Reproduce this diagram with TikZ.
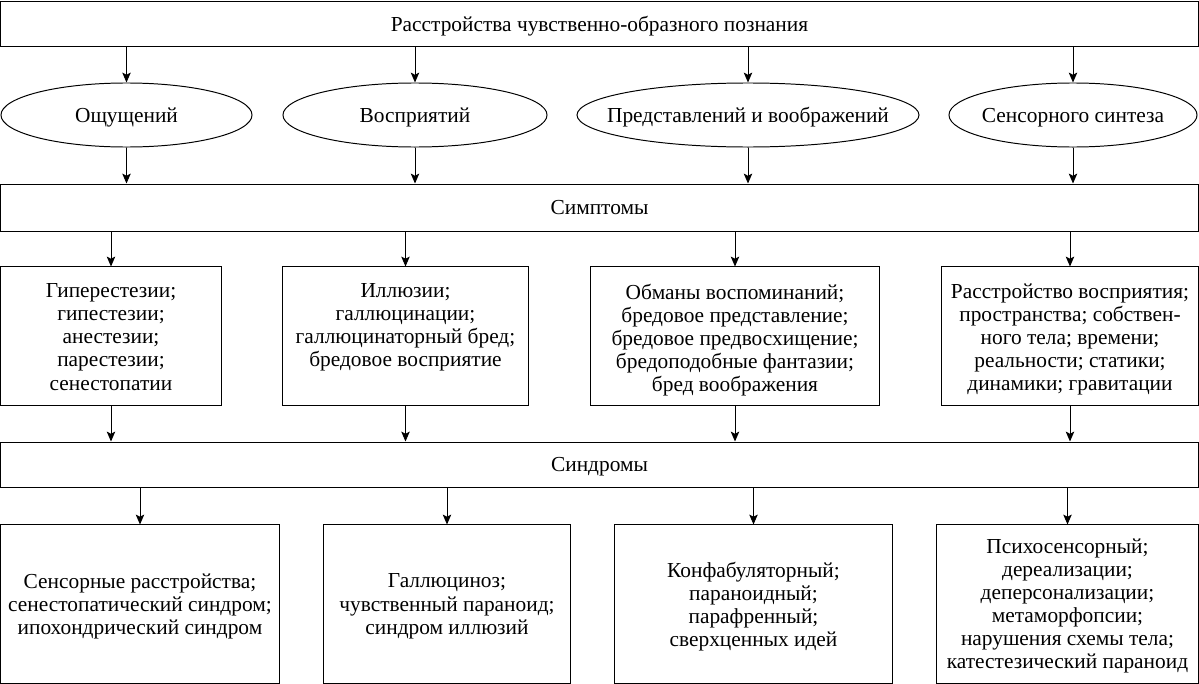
\documentclass[tikz,border=0pt]{standalone}
\usepackage{fontspec}
\setmainfont{Liberation Serif}
\usetikzlibrary{arrows.meta}
\usetikzlibrary{shapes.geometric}
\usetikzlibrary{positioning}
\tikzset{arr/.style = {-{Stealth[length=7pt, width=6pt, inset=1.5pt]}, line width=0.7pt}}
\tikzset{box/.style = {draw, rectangle, line width=0.7pt, inner sep=0, text depth=0pt}}
\tikzset{oval/.style = {draw, ellipse, line width=0.7pt, inner xsep=-0.5cm, inner ysep=0,
                        minimum height=1.6cm, text depth=0pt}}
\tikzset{txt/.style = {align=center, inner sep=0}}
\tikzset{every node/.style = {font=\fontsize{15.2}{16.4}\selectfont}}

\begin{document}
\begin{tikzpicture}[x=0.025cm, y=-0.025cm]
    \useasboundingbox (0, 0) rectangle (1199, 684);

    \node [box, minimum width=29.925cm, minimum height=1.125cm] (top) at (599.5, 23.5)
      {Расстройства чувственно-образного познания};

    \node [oval, minimum width=6.275cm] (e1) at (126.5, 115) {Ощущений};
    \node [oval, minimum width=6.6cm] (e2) at (415, 115) {Восприятий};
    \node [oval, minimum width=8.5cm] (e3) at (748, 115) {Представлений и воображений};
    \node [oval, minimum width=6.2cm] (e4) at (1073, 115) {Сенсорного синтеза};

    \node [box, minimum width=29.925cm, minimum height=1.175cm] (symp) at (599.5, 207.5) {Симптомы};

    \node [box, minimum width=5.5cm, minimum height=3.45cm] (s1) at (111, 336) {};
    \node [box, minimum width=6.125cm, minimum height=3.45cm] (s2) at (405.5, 336) {};
    \node [box, minimum width=7.2cm, minimum height=3.45cm] (s3) at (735, 336) {};
    \node [box, minimum width=6.4cm, minimum height=3.45cm] (s4) at (1070, 336) {};
    \node [txt, anchor=north] (s1t) at ([yshift=-0.425cm]s1.north)
      {Гиперестезии;\\ гипестезии;\\ анестезии;\\ парестезии;\\ сенестопатии};
    \node [txt, anchor=north] (s2t) at ([yshift=-0.425cm]s2.north)
      {Иллюзии;\\ галлюцинации;\\ галлюцинаторный бред;\\ бредовое восприятие};
    \node [txt, anchor=north] (s3t) at ([yshift=-0.425cm]s3.north)
      {Обманы воспоминаний;\\ бредовое представление;\\ бредовое предвосхищение;\\
       бредоподобные фантазии;\\ бред воображения};
    \node [txt, anchor=north] (s4t) at ([yshift=-0.425cm]s4.north)
      {Расстройство восприятия;\\ пространства; собствен-\\ ного тела; времени;\\
       реальности; статики;\\ динамики; гравитации};

    \node [box, minimum width=29.925cm, minimum height=1.125cm] (synd) at (599.5, 464.5) {Синдромы};

    \node [box, txt, minimum width=6.95cm, minimum height=3.95cm] (c1) at (140, 604)
      {Сенсорные расстройства;\\ сенестопатический синдром;\\ ипохондрический синдром};
    \node [box, txt, minimum width=6.15cm, minimum height=3.95cm] (c2) at (447, 604)
      {Галлюциноз;\\ чувственный параноид;\\ синдром иллюзий};
    \node [box, txt, minimum width=6.925cm, minimum height=3.95cm] (c3) at (753.5, 604)
      {Конфабуляторный;\\ параноидный;\\ парафренный;\\ сверхценных идей};
    \node [box, txt, minimum width=6.525cm, minimum height=3.95cm] (c4) at (1067.5, 604)
      {Психосенсорный;\\ дереализации;\\ деперсонализации;\\ метаморфопсии;\\
       нарушения схемы тела;\\ катестезический параноид};

    \foreach \n in {e1, e2, e3, e4} {
      \draw [arr] (top.south -| \n.north) -- (\n.north);
      \draw [arr] (\n.south) -- (\n.south |- symp.north);
    }
    \foreach \n in {s1, s2, s3, s4} {
      \draw [arr] (symp.south -| \n.north) -- (\n.north);
      \draw [arr] (\n.south) -- (\n.south |- synd.north);
    }
    \foreach \n in {c1, c2, c3, c4} {
      \draw [arr] (synd.south -| \n.north) -- (\n.north);
    }
  \end{tikzpicture}
\end{document}
